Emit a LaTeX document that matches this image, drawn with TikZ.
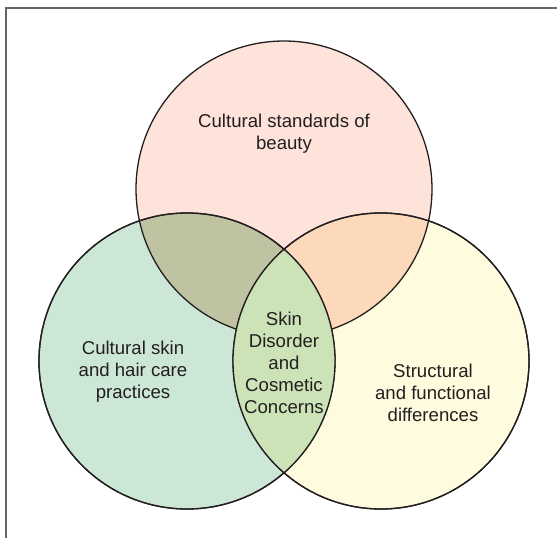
\documentclass[tikz,border=0pt]{standalone}
\usepackage{fontspec}
\setmainfont{Liberation Sans}
\definecolor{ctop}{HTML}{FDE3D9}
\definecolor{cleft}{HTML}{CCE7D6}
\definecolor{cright}{HTML}{FEFBDE}
\definecolor{colive}{HTML}{C0C3A1}
\definecolor{cpeach}{HTML}{FDD9BB}
\definecolor{clens}{HTML}{CCE3B8}
\definecolor{cline}{HTML}{231F20}
\definecolor{cframe}{HTML}{666666}
\begin{document}
\begin{tikzpicture}[x=1pt,y=-1pt,
  outline/.style={draw=cline,line width=1.3pt},
  lbl/.style={text=cline,align=center,inner sep=0pt,font=\fontsize{18.6}{22}\selectfont}]
\useasboundingbox (0,0) rectangle (557,538);
\clip (0,0) rectangle (557,538);
\fill[white] (0,0) rectangle (557,538);
\draw[cframe,line width=1.7pt] (6,8) rectangle (580,560);
\coordinate (T) at (284,189);
\coordinate (L) at (187,361);
\coordinate (R) at (381,361);
\def\rad{148}
% base fills
\fill[ctop] (T) circle[radius=\rad];
\fill[cleft] (L) circle[radius=\rad];
\fill[cright] (R) circle[radius=\rad];
% pair overlaps
\begin{scope}
  \clip (T) circle[radius=\rad];
  \fill[colive] (L) circle[radius=\rad];
  \fill[cpeach] (R) circle[radius=\rad];
\end{scope}
\draw[outline] (T) circle[radius=\rad];
\draw[outline] (L) circle[radius=\rad];
\draw[outline] (R) circle[radius=\rad];
% lens
\begin{scope}
  \clip (L) circle[radius=\rad];
  \fill[clens] (R) circle[radius=\rad];
\end{scope}
\draw[outline] (L) circle[radius=\rad];
\draw[outline] (R) circle[radius=\rad];
% labels
\node[lbl] (ttop) at (284,134) {Cultural standards of\\beauty};
\node[lbl] (tleft) at (133,372) {Cultural skin\\and hair care\\practices};
\node[lbl] (tright) at (433,393) {Structural\\and functional\\differences};
\node[lbl] (tmid) at (284,363) {Skin\\Disorder\\and\\Cosmetic\\Concerns};
\end{tikzpicture}
\end{document}
